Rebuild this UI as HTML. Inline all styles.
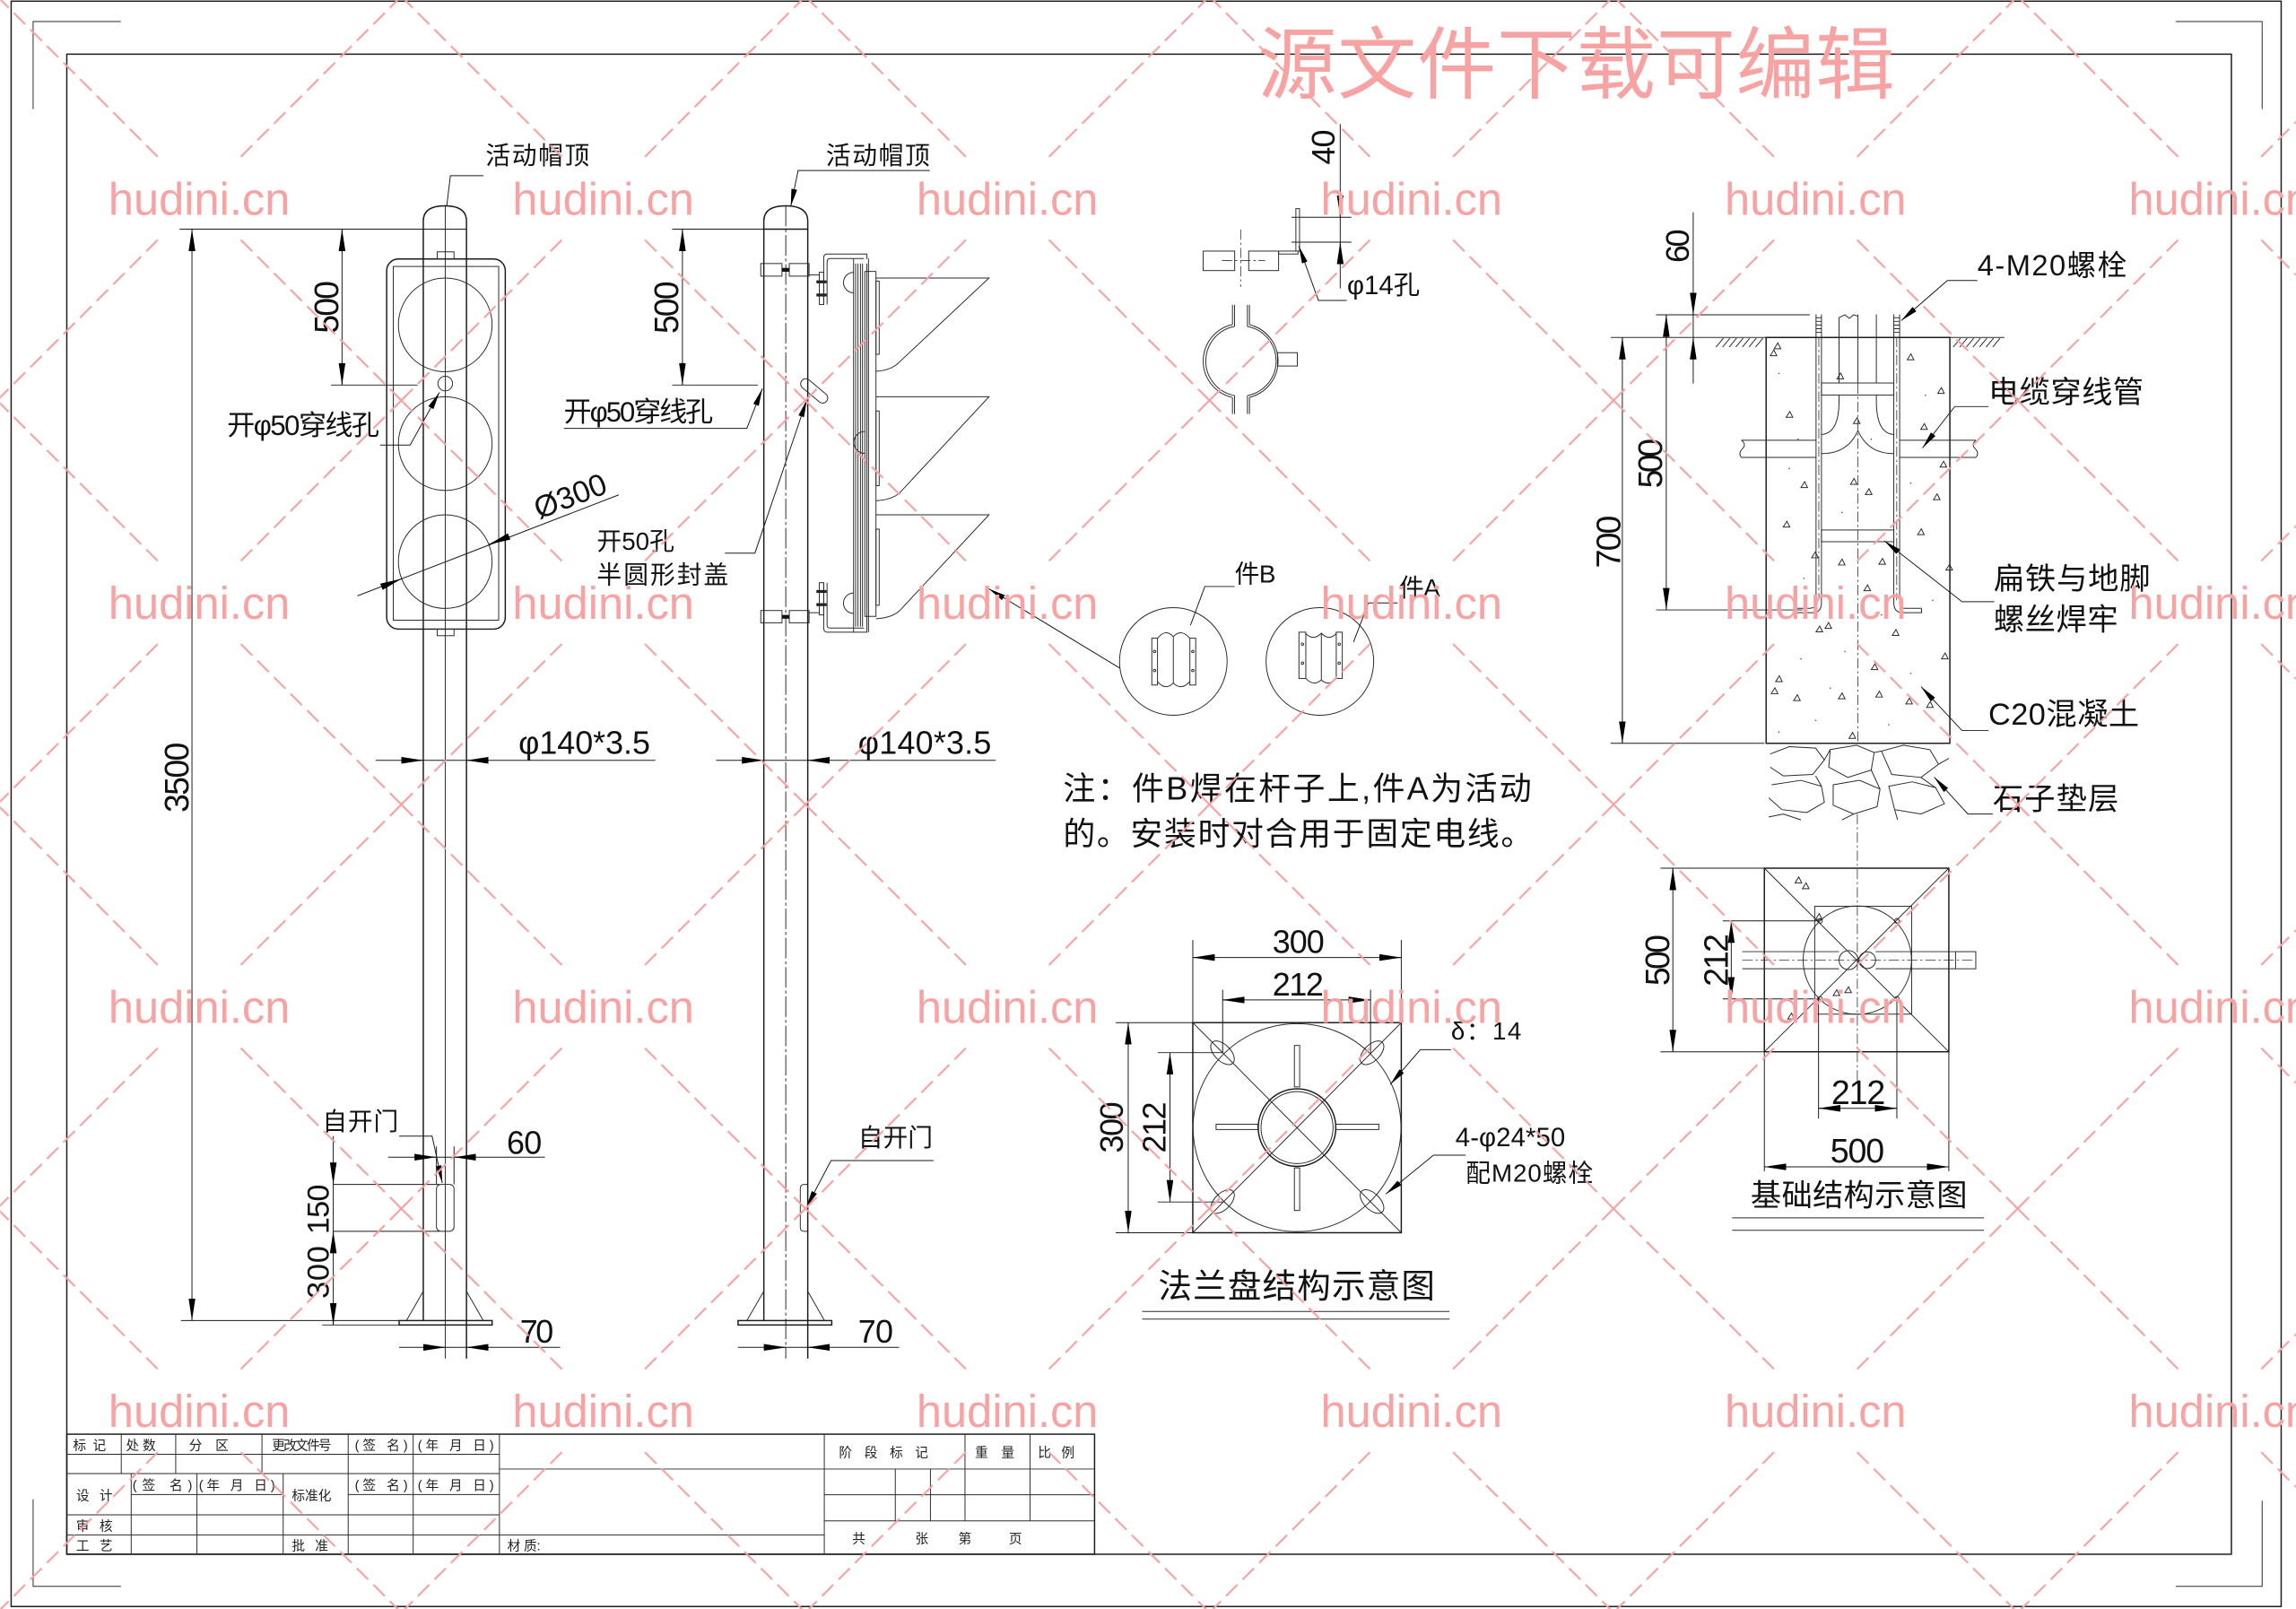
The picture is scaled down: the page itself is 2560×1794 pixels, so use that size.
<!DOCTYPE html>
<html><head><meta charset="utf-8"><style>
html,body{margin:0;padding:0;background:#fff;width:2560px;height:1794px;overflow:hidden}
svg{display:block}
.l{stroke:#1a1a1a;stroke-width:0.9;fill:none}
.t{stroke:#2a2a2a;stroke-width:0.6;fill:none}
.d{stroke:#1a1a1a;stroke-width:0.6;fill:none}
.dash{stroke:#333;stroke-width:0.5;fill:none;stroke-dasharray:7 2 1.5 2}
.n{font-family:"Liberation Sans",sans-serif;fill:#111}
.c{font-family:"Liberation Sans","Noto Sans CJK SC",sans-serif;fill:#111}
.tb{font-family:"Liberation Sans","Noto Sans CJK SC",sans-serif;fill:#222;font-size:9px}
.w{font-family:"Liberation Sans",sans-serif;fill:#f8a3a3;font-size:31px}
</style></head><body>
<svg xmlns="http://www.w3.org/2000/svg" width="2560" height="1794" viewBox="0 0 1568 1099">
<defs>
<marker id="a" viewBox="0 0 15 4.6" refX="15" refY="2.3" markerWidth="15" markerHeight="4.6" markerUnits="userSpaceOnUse" orient="auto"><path d="M0,0L15,2.3L0,4.6z" fill="#000"/></marker>
<marker id="b" viewBox="0 0 12 4" refX="12" refY="2" markerWidth="12" markerHeight="4" markerUnits="userSpaceOnUse" orient="auto"><path d="M0,0L12,2L0,4z" fill="#000"/></marker>
<pattern id="wm" patternUnits="userSpaceOnUse" x="-2" y="-2.5" width="276" height="276">
<path d="M0,0L111,111M276,0L165,111M0,276L111,165M276,276L165,165" stroke="#f6a0a0" stroke-width="1.3" stroke-dasharray="11 5" fill="none"/>
</pattern>
</defs>
<rect width="1568" height="1099" fill="#fff"/>

<!-- borders -->
<rect x="7.5" y="0.8" width="1550.5" height="1096.5" class="l" stroke-width="1.2"/>
<rect x="45.5" y="37" width="1478.5" height="1024.6" class="l"/>
<path class="t" d="M22.5,74.5V14.7H82.5M1486,14.7H1545V74.5M22.5,1024V1083.5H82.5M1486,1083.5H1545V1025"/>

<!-- ============ FRONT VIEW ============ -->
<path class="l" d="M289,156.5V902M318.5,156.5V928"/>
<path class="t" d="M304,140.6V928"/>
<path class="l" d="M289,156.5V151Q289,140.6 303.75,140.6Q318.5,140.6 318.5,151V156.5"/>
<path class="d" d="M122.5,156.5H318.5"/>
<rect x="264" y="176.9" width="81" height="252.8" rx="8" class="l" fill="none"/>
<rect x="268.5" y="182" width="72" height="241.6" class="t"/>
<rect x="298.5" y="172" width="11.5" height="4.9" class="t"/>
<rect x="298.5" y="429.7" width="11.5" height="4.5" class="t"/>
<circle cx="304" cy="221.9" r="32" class="t"/>
<circle cx="304" cy="303" r="32" class="t"/>
<circle cx="304" cy="383.6" r="32" class="t"/>
<circle cx="304" cy="262" r="5" class="t"/>
<!-- dims front -->
<path class="d" d="M233.5,156.5V263M226,263H285"/>
<path class="d" marker-end="url(#a)" d="M233.5,172V156.5"/>
<path class="d" marker-end="url(#a)" d="M233.5,247V263"/>
<text class="n" font-size="23" text-anchor="middle" textLength="36" transform="translate(230.7,209.7) rotate(-90)">500</text>
<path class="d" d="M131,156.5V902M123.5,902H272.5"/>
<path class="d" marker-end="url(#a)" d="M131,172V156.5"/>
<path class="d" marker-end="url(#a)" d="M131,886V902"/>
<text class="n" font-size="23" text-anchor="middle" textLength="48" transform="translate(128.5,531) rotate(-90)">3500</text>
<text class="c" x="331.5" y="112" font-size="17" textLength="71">活动帽顶</text>
<path class="d" d="M305,141L307.5,120H330"/>
<text class="c" x="155" y="297" font-size="19" textLength="104">开φ50穿线孔</text>
<path class="d" marker-end="url(#b)" d="M259.5,304H280L300,268"/>
<path class="d" d="M244,407L422.5,338"/>
<path class="d" marker-end="url(#a)" d="M260.4,400.8L274.3,395.3"/>
<path class="d" marker-end="url(#a)" d="M347.6,366.4L333.7,371.9"/>
<text class="n" font-size="21" text-anchor="middle" transform="translate(392,345.5) rotate(-21.2)">Ø300</text>
<path class="d" d="M256.5,519.3H447.5"/>
<path class="d" marker-end="url(#a)" d="M274,519.3H289"/>
<path class="d" marker-end="url(#a)" d="M333.5,519.3H318.5"/>
<text class="n" x="354" y="515" font-size="22" textLength="90">φ140*3.5</text>
<rect x="298" y="809" width="12" height="32" rx="3" class="t"/>
<text class="c" x="220" y="772" font-size="17" textLength="52">自开门</text>
<path class="d" marker-end="url(#b)" d="M272.5,776H295L302,808"/>
<path class="d" d="M265,790.4H372M298,783V809M310,783V809"/>
<path class="d" marker-end="url(#a)" d="M283,790.4H298"/>
<path class="d" marker-end="url(#a)" d="M325,790.4H310"/>
<text class="n" x="346" y="788" font-size="22" textLength="24">60</text>
<path class="d" d="M227.5,776V905M227.5,809H300M227.5,841H300M220,905H272.5"/>
<path class="d" marker-end="url(#a)" d="M227.5,794V809"/>
<path class="d" marker-end="url(#a)" d="M227.5,856V841"/>
<path class="d" marker-end="url(#a)" d="M227.5,890V905"/>
<text class="n" font-size="21" text-anchor="middle" textLength="34" transform="translate(224.5,826) rotate(-90)">150</text>
<text class="n" font-size="21" text-anchor="middle" textLength="36" transform="translate(224.5,869) rotate(-90)">300</text>
<rect x="272.5" y="902" width="63.5" height="3" class="l"/>
<path class="t" d="M277.5,902L289,882M318.5,882L330,902"/>
<path class="d" d="M272.5,920.3H382.5"/>
<path class="d" marker-end="url(#a)" d="M289,920.3H304"/>
<path class="d" marker-end="url(#a)" d="M333.5,920.3H318.5"/>
<text class="n" x="355" y="917" font-size="22" textLength="23">70</text>

<!-- ============ SIDE VIEW ============ -->
<path class="l" d="M521.6,156.5V902M551.6,156.5V928"/>
<path class="t" d="M536.6,140.6V928" stroke-dasharray="14 2 2 2"/>
<path class="l" d="M521.6,156.5V151Q521.6,140.6 536.6,140.6Q551.6,140.6 551.6,151V156.5Z"/>
<path class="d" d="M466,156.5V263M459,156.5H521.6M459,263H517.5"/>
<path class="d" marker-end="url(#a)" d="M466,172V156.5"/>
<path class="d" marker-end="url(#a)" d="M466,247V263"/>
<text class="n" font-size="23" text-anchor="middle" textLength="36" transform="translate(463,210) rotate(-90)">500</text>
<text class="c" x="564" y="112" font-size="17" textLength="71">活动帽顶</text>
<path class="d" marker-end="url(#b)" d="M635,116.5H545L540,141"/>
<!-- brackets -->
<rect x="519.5" y="180" width="14.5" height="8.6" class="t"/>
<rect x="539" y="180" width="13.5" height="8.6" class="t"/>
<rect x="534" y="183" width="5" height="2.6" fill="#111"/>
<path class="t" d="M552.5,187.8H559.5"/>
<rect x="559.5" y="186" width="3" height="22" class="t"/>
<rect x="557.5" y="191.5" width="7" height="2" fill="#222"/>
<rect x="557.5" y="200.5" width="7" height="2" fill="#222"/>
<path class="t" d="M562.5,208V176Q562.5,173.5 565,173.5H592V177M564.8,208V179Q564.8,176.6 567,176.6H590"/>
<rect x="519.5" y="417" width="14.5" height="8.4" class="t"/>
<rect x="539" y="417" width="13.5" height="8.4" class="t"/>
<rect x="534" y="420" width="5" height="2.6" fill="#111"/>
<path class="t" d="M552.5,418.5H559.5"/>
<rect x="559.5" y="398" width="3" height="22" class="t"/>
<rect x="557.5" y="403" width="7" height="2" fill="#222"/>
<rect x="557.5" y="412" width="7" height="2" fill="#222"/>
<path class="t" d="M562.5,398V429Q562.5,431.8 565,431.8H592V428M564.8,398V427Q564.8,429 567,429H590"/>
<!-- housing -->
<path class="t" d="M582.9,176.6V431.8M584.3,180V428M585.9,180V428M587.6,180V428M589,180V428M592,180V428M593.1,176.6V431.8"/>
<rect x="590.6" y="185.4" width="7.6" height="235.6" class="t"/>
<path class="t" d="M583,186A7,7 0 0 0 583,200M590.6,294.7A7.5,7.5 0 0 0 590.6,309.7M583,405A7,7 0 0 0 583,419"/>
<path class="t" d="M598.2,189.9H675.4L614.5,247Q609,253 598.2,253.6"/>
<path class="t" d="M598.2,271H675.4L614.5,336.5Q609,341.5 598.2,342"/>
<path class="t" d="M598.2,351.6H675.4L614.5,417Q609,422 598.2,422.6"/>
<rect x="598.2" y="192" width="2.2" height="50" class="t"/>
<rect x="598.2" y="280.7" width="2.2" height="51" class="t"/>
<rect x="598.2" y="361.4" width="2.2" height="52" class="t"/>
<rect x="545" y="263.5" width="22" height="7" rx="3.5" transform="rotate(40 556 267)" class="t" fill="#fff"/>
<text class="c" x="385" y="288" font-size="19" textLength="102">开φ50穿线孔</text>
<path class="d" marker-end="url(#b)" d="M385,292.6H510L520.6,265.4"/>
<text class="c" x="407.5" y="375.5" font-size="17" textLength="53">开50孔</text>
<text class="c" x="407.5" y="398.5" font-size="17" textLength="90">半圆形封盖</text>
<path class="d" marker-end="url(#b)" d="M495,377.8H515.5L551,273"/>
<path class="d" d="M489,519.3H680"/>
<path class="d" marker-end="url(#a)" d="M506.6,519.3H521.6"/>
<path class="d" marker-end="url(#a)" d="M566.6,519.3H551.6"/>
<text class="n" x="586" y="515" font-size="22" textLength="91">φ140*3.5</text>
<path class="t" d="M551.6,809H549Q546.5,809 546.5,812V838Q546.5,841 549,841H551.6"/>
<text class="c" x="586" y="783" font-size="17" textLength="51">自开门</text>
<path class="d" marker-end="url(#b)" d="M637.5,792.7H567.5L550.5,825"/>
<rect x="504" y="902" width="64" height="3" class="l"/>
<path class="t" d="M510,902L521.6,882M551.6,882L563,902"/>
<path class="d" d="M504,920.3H614"/>
<path class="d" marker-end="url(#a)" d="M521.6,920.3H536.6"/>
<path class="d" marker-end="url(#a)" d="M566.6,920.3H551.6"/>
<text class="n" x="586" y="917" font-size="22" textLength="24">70</text>
<path class="d" marker-end="url(#b)" d="M765,456.5L675,402"/>

<!-- ============ PARTS ============ -->
<path class="d" d="M915.3,84.7V197M882,148.4H923M882,165.4H923"/>
<path class="d" marker-end="url(#a)" d="M915.3,133.4V148.4"/>
<path class="d" marker-end="url(#a)" d="M915.3,180.4V165.4"/>
<text class="n" font-size="22" text-anchor="middle" textLength="24" transform="translate(911.5,100.5) rotate(-90)">40</text>
<rect x="885" y="142.5" width="2.5" height="29" class="t"/>
<rect x="873.2" y="171.5" width="13.3" height="2" class="t"/>
<rect x="821.7" y="171.5" width="21.5" height="13.3" class="t"/>
<rect x="852.8" y="171.5" width="20.4" height="13.3" class="t"/>
<path class="dash" d="M847.3,156.8V196M834.5,178H864"/>
<text class="c" x="920" y="201" font-size="18">φ14孔</text>
<path class="d" marker-end="url(#b)" d="M919.8,205.2H900.4L887,168"/>
<path class="t" d="M841.7,221.7A25.5,25.5 0 0 0 841.7,271.5M843.1,223A24,24 0 0 0 843.1,270.2M853.3,221.8A25.5,25.5 0 0 1 853.3,271.4M851.9,223A24,24 0 0 1 851.9,270.2"/>
<path class="t" d="M841.7,208.2V221.7M843.1,208.2V223M851.9,208.2V223M853.3,208.2V221.8M841.7,271.5V282.8M843.1,270.2V282.8M851.9,270.2V282.8M853.3,271.4V282.8"/>
<rect x="872.5" y="240.9" width="13.5" height="9.1" class="t"/>
<circle cx="801.3" cy="451.8" r="36.75" class="t"/>
<circle cx="901.4" cy="451.8" r="36.75" class="t"/>
<rect x="786.6" y="435.9" width="3.9" height="32" class="t"/>
<rect x="812.6" y="435.9" width="4" height="32" class="t"/>
<path class="t" d="M790.5,436Q795.9,429 801.3,434.9Q806.7,429 812.6,436M790.5,465.5Q795.9,472 801.3,466.5Q806.7,472 812.6,465.5M801.3,434.9V466.5"/>
<circle cx="788.5" cy="445" r="0.8" class="t"/><circle cx="788.5" cy="458" r="0.8" class="t"/>
<circle cx="814.6" cy="445" r="0.8" class="t"/><circle cx="814.6" cy="458" r="0.8" class="t"/>
<rect x="887.1" y="431.8" width="4.7" height="31.6" class="t"/>
<rect x="912.6" y="431.8" width="4.1" height="31.6" class="t"/>
<path class="t" d="M891.8,432.8Q897,438 902.4,432.5Q907.5,438 912.6,432.8M891.8,463.4Q897,469 902.4,464.5Q907.5,469 912.6,463.4M902.4,432.5V464.5"/>
<circle cx="889.5" cy="440" r="0.8" class="t"/><circle cx="889.5" cy="453" r="0.8" class="t"/>
<circle cx="914.6" cy="440" r="0.8" class="t"/><circle cx="914.6" cy="453" r="0.8" class="t"/>
<text class="c" x="843.2" y="398" font-size="17" textLength="28">件B</text>
<path class="d" d="M843.2,400.6H822.8L813,427.1"/>
<text class="c" x="955.5" y="407.5" font-size="17" textLength="28">件A</text>
<path class="d" d="M954.5,411.8H934.6L924.4,438.5"/>
<text class="c" x="726" y="546" font-size="22" textLength="320">注：件B焊在杆子上,件A为活动</text>
<text class="c" x="726" y="577" font-size="22" textLength="321">的。安装时对合用于固定电线。</text>

<!-- ============ FOUNDATION SECTION ============ -->
<path class="d" d="M1131,215H1236"/>
<path class="t" d="M1100,230.5H1206.2M1331.7,230.5H1369"/>
<path class="t" d="M1172,237L1177,231M1176.5,237L1181.5,231M1181,237L1186,231M1185.5,237L1190.5,231M1190,237L1195,231M1194.5,237L1199.5,231M1199,237L1204,231M1334,237L1339,231M1338.5,237L1343.5,231M1343,237L1348,231M1347.5,237L1352.5,231M1352,237L1357,231M1356.5,237L1361.5,231M1361,237L1366,231"/>
<rect x="1206.2" y="230.5" width="125.5" height="277.2" class="l"/>
<path class="dash" d="M1268.9,262V507.7"/>
<path class="t" d="M1256,217V261.6M1268.9,214.7V261.6M1281.5,214.7V261.6M1256,217L1260,215L1263,217.5L1266,215L1268.9,216"/>
<path class="t" d="M1256,269.8V274Q1256,296 1244,296.8M1281.5,269.8V274Q1281.5,296 1293.4,296.8M1268.9,294.1Q1262,310 1244,309.8M1268.9,294.1Q1276,310 1293.4,309.8"/>
<path class="t" d="M1240.3,214.7V411.6Q1240.3,415.3 1236,415.5H1225M1244,214.7V411.6Q1244,418.5 1238,418.5H1225V415.5"/>
<path class="t" d="M1293.4,214.7V411.6Q1293.4,418.5 1299.5,418.5H1312.4V415.5M1297.4,214.7V411.6Q1297.4,415.3 1301,415.5H1312.4"/>
<path class="t" d="M1240.3,217H1244M1240.3,219.5H1244M1240.3,222H1244M1240.3,224.5H1244M1240.3,227H1244M1293.4,217H1297.4M1293.4,219.5H1297.4M1293.4,222H1297.4M1293.4,224.5H1297.4M1293.4,227H1297.4"/>
<path class="dash" d="M1242.2,230V410M1295.4,230V410"/>
<rect x="1244" y="261.6" width="49.4" height="8.2" class="t"/>
<rect x="1244" y="362" width="49.4" height="8" class="t"/>
<path class="t" d="M1189.3,300.7H1240.3M1189.3,312.4H1240.3M1297.4,300.7H1349.5M1297.4,312.4H1349.5M1189.3,300.7Q1193,303.5 1190,306.5Q1187,309.5 1189.3,312.4M1349.5,300.7Q1346,303.5 1349,306.5Q1352,309.5 1349.5,312.4"/>
<g class="t">
<path d="M1211.7,238.2l2.5,-4l2,4z M1209,243l2.5,-4l2,4z M1219.9,285l2.5,-4l2,4z M1230,333l2.5,-4l2,4z M1217.9,360l2.5,-4l2,4z M1237.3,381l2.5,-4l2,4z M1265.8,289.3l2.5,-4l2,4z M1254.6,258.8l2.5,-4l2,4z M1263.8,330.8l2.5,-4l2,4z M1274,337.8l2.5,-4l2,4z M1255.6,385.9l2.5,-4l2,4z M1283.2,385.4l2.5,-4l2,4z M1273,403.5l2.5,-4l2,4z M1302.6,245.7l2.5,-4l2,4z M1323.4,268.7l2.5,-4l2,4z M1311.8,293.3l2.5,-4l2,4z M1325,319l2.5,-4l2,4z M1320.5,341.3l2.5,-4l2,4z M1309.7,365.2l2.5,-4l2,4z M1329,389.4l2.5,-4l2,4z M1246.4,429.2l2.5,-4l2,4z M1240.3,431.6l2.5,-4l2,4z M1292.4,434l2.5,-4l2,4z M1212.7,465.6l2.5,-4l2,4z M1209.7,473.8l2.5,-4l2,4z M1225,478.5l2.5,-4l2,4z M1255.6,477.3l2.5,-4l2,4z M1281.1,476.1l2.5,-4l2,4z M1278,457.4l2.5,-4l2,4z M1301.6,480.8l2.5,-4l2,4z M1315.8,483.2l2.5,-4l2,4z M1262.8,504.3l2.5,-4l2,4z M1326,450l2.5,-4l2,4z"/>
</g>
<g fill="#555">
<circle cx="1215" cy="255" r="0.5"/><circle cx="1228" cy="300" r="0.5"/><circle cx="1222" cy="320" r="0.5"/><circle cx="1232" cy="395" r="0.5"/><circle cx="1216" cy="420" r="0.5"/><circle cx="1230" cy="450" r="0.5"/><circle cx="1240" cy="492" r="0.5"/><circle cx="1260" cy="445" r="0.5"/><circle cx="1285" cy="420" r="0.5"/><circle cx="1305" cy="330" r="0.5"/><circle cx="1315" cy="270" r="0.5"/><circle cx="1305" cy="460" r="0.5"/><circle cx="1290" cy="495" r="0.5"/><circle cx="1320" cy="410" r="0.5"/><circle cx="1258" cy="350" r="0.5"/><circle cx="1278" cy="300" r="0.5"/><circle cx="1250" cy="470" r="0.5"/><circle cx="1215" cy="500" r="0.5"/>
</g>
<g class="t">
<path d="M1209,515L1222,510L1240,511L1246,519L1238,529L1218,530L1209,524"/>
<path d="M1250,512L1268,509L1280,514L1278,526L1262,531L1249,524Z"/>
<path d="M1285,513L1300,509L1318,512L1324,522L1312,531L1292,529Z"/>
<path d="M1210,536L1230,533L1244,537L1246,548L1234,555L1217,553L1208,545"/>
<path d="M1252,536L1270,533L1284,539L1282,551L1266,556L1252,550Z"/>
<path d="M1290,537L1306,534L1322,538L1328,549L1312,556L1294,553Z"/>
<path d="M1246,519L1250,512M1240,530L1244,537M1280,514L1285,513M1278,526L1284,539M1324,522L1331,518M1312,531L1322,538M1208,558L1218,556L1230,560M1258,560L1266,556M1296,560L1294,553"/>
</g>
<path class="d" d="M1156.4,145V262"/>
<path class="d" marker-end="url(#a)" d="M1156.4,200V215"/>
<path class="d" marker-end="url(#a)" d="M1156.4,245.5V230.5"/>
<text class="n" font-size="22" text-anchor="middle" textLength="23" transform="translate(1153.5,168) rotate(-90)">60</text>
<path class="d" d="M1138,215V416.6M1131,416.6H1231"/>
<path class="d" marker-end="url(#a)" d="M1138,230V215"/>
<path class="d" marker-end="url(#a)" d="M1138,401.6V416.6"/>
<text class="n" font-size="23" text-anchor="middle" textLength="34" transform="translate(1135,316.5) rotate(-90)">500</text>
<path class="d" d="M1108,230.5V507.7M1100,507.7H1205"/>
<path class="d" marker-end="url(#a)" d="M1108,245.5V230.5"/>
<path class="d" marker-end="url(#a)" d="M1108,492.7V507.7"/>
<text class="n" font-size="23" text-anchor="middle" textLength="36" transform="translate(1106.5,370) rotate(-90)">700</text>
<text class="c" x="1350.5" y="188" font-size="20" textLength="102">4-M20螺栓</text>
<path class="d" marker-end="url(#b)" d="M1350.5,191.6H1330L1298.5,219"/>
<text class="c" x="1358" y="275" font-size="21" textLength="106">电缆穿线管</text>
<path class="d" marker-end="url(#b)" d="M1358,277.7H1335L1313,306"/>
<text class="c" x="1361.6" y="402.5" font-size="21" textLength="107">扁铁与地脚</text>
<text class="c" x="1361.6" y="430.5" font-size="21" textLength="85">螺丝焊牢</text>
<path class="d" marker-end="url(#b)" d="M1362,411H1340L1287,369.5"/>
<text class="c" x="1358" y="495" font-size="21" textLength="103">C20混凝土</text>
<path class="d" marker-end="url(#b)" d="M1358,499H1340L1312,469"/>
<text class="c" x="1361" y="553" font-size="21" textLength="86">石子垫层</text>
<path class="d" marker-end="url(#b)" d="M1361,556H1344L1321,530.8"/>

<!-- ============ FOUNDATION PLAN ============ -->
<rect x="1205" y="593" width="126" height="125.4" class="l"/>
<path class="t" d="M1205,593L1331,718.4M1331,593L1205,718.4"/>
<rect x="1239.4" y="619" width="66.2" height="73.7" class="t"/>
<circle cx="1268.5" cy="655.8" r="37" class="t"/>
<path class="t" d="M1190,650H1256M1190,661.7H1256M1281,650H1335.6M1281,661.7H1335.6"/>
<rect x="1335.6" y="650" width="13.8" height="11.7" class="t"/>
<circle cx="1262.5" cy="655.8" r="6.5" class="t"/>
<circle cx="1275.3" cy="655.8" r="5.7" class="t"/>
<path class="dash" d="M1268.5,556V740M1190,655.8H1349"/>
<g class="t"><circle cx="1243" cy="629" r="1.6"/><circle cx="1295.5" cy="629" r="1.6"/><circle cx="1243" cy="682.3" r="1.6"/><circle cx="1295.5" cy="682.3" r="1.6"/>
<path d="M1226,603l2.5,-4l2,4z M1231,607l2.5,-4l2,4z M1221,696l2.5,-4l2,4z M1260,678l2.5,-4l2,4z M1252,680l2.5,-4l2,4z M1240,628l2.5,-4l2,4z"/></g>
<path class="d" d="M1142.5,593V718.4M1134,593H1205M1134,718.4H1205"/>
<path class="d" marker-end="url(#a)" d="M1142.5,608V593"/>
<path class="d" marker-end="url(#a)" d="M1142.5,703.4V718.4"/>
<text class="n" font-size="23" text-anchor="middle" textLength="35" transform="translate(1140,655.8) rotate(-90)">500</text>
<path class="d" d="M1182.4,629V682.3M1176.6,629H1243M1176.6,682.3H1243"/>
<path class="d" marker-end="url(#a)" d="M1182.4,644V629"/>
<path class="d" marker-end="url(#a)" d="M1182.4,667.3V682.3"/>
<text class="n" font-size="23" text-anchor="middle" textLength="36" transform="translate(1180,655.8) rotate(-90)">212</text>
<path class="d" d="M1242,757H1295.5M1242,682V764M1295.5,682V764"/>
<path class="d" marker-end="url(#a)" d="M1257,757H1242"/>
<path class="d" marker-end="url(#a)" d="M1280.5,757H1295.5"/>
<text class="n" x="1250.7" y="754" font-size="23" textLength="37">212</text>
<path class="d" d="M1205,797H1331M1205,718.4V800M1331,718.4V800"/>
<path class="d" marker-end="url(#a)" d="M1220,797H1205"/>
<path class="d" marker-end="url(#a)" d="M1316,797H1331"/>
<text class="n" x="1250" y="794" font-size="23" textLength="37">500</text>
<text class="c" x="1195.6" y="823.5" font-size="21" textLength="148">基础结构示意图</text>
<path class="t" d="M1183,831.8H1355M1183,840.3H1355"/>

<!-- ============ FLANGE ============ -->
<rect x="814.6" y="698.5" width="142.4" height="143.5" class="l"/>
<circle cx="885.8" cy="770.2" r="71" class="t"/>
<path class="t" d="M814.6,698.5L957,842M957,698.5L814.6,842"/>
<circle cx="885.8" cy="770.2" r="26.5" class="l"/>
<circle cx="885.8" cy="770.2" r="24.6" class="t"/>
<rect x="884" y="714.1" width="3.6" height="28.3" class="t" fill="#fff"/>
<rect x="884" y="797.7" width="3.6" height="29.1" class="t" fill="#fff"/>
<rect x="830.5" y="767.9" width="28.5" height="3.6" class="t" fill="#fff"/>
<rect x="912.1" y="767.9" width="29.6" height="3.6" class="t" fill="#fff"/>
<ellipse cx="834.9" cy="719.1" rx="10" ry="5.5" transform="rotate(45 834.9 719.1)" class="t"/>
<ellipse cx="937" cy="719.1" rx="10" ry="5.5" transform="rotate(-45 937 719.1)" class="t"/>
<ellipse cx="834.9" cy="820.7" rx="10" ry="5.5" transform="rotate(-45 834.9 820.7)" class="t"/>
<ellipse cx="937" cy="820.7" rx="10" ry="5.5" transform="rotate(45 937 820.7)" class="t"/>
<path class="d" d="M814.6,654H957M814.6,642V698.5M957,642V698.5"/>
<path class="d" marker-end="url(#a)" d="M829.6,654H814.6"/>
<path class="d" marker-end="url(#a)" d="M942,654H957"/>
<text class="n" x="869" y="651" font-size="22" textLength="35.5">300</text>
<path class="d" d="M835,683H936M835,676V719M936,676V719"/>
<path class="d" marker-end="url(#a)" d="M850,683H835"/>
<path class="d" marker-end="url(#a)" d="M921,683H936"/>
<text class="n" x="869" y="680" font-size="22" textLength="35">212</text>
<path class="d" d="M770.5,698.5V842M762,698.5H815M762,842H815"/>
<path class="d" marker-end="url(#a)" d="M770.5,713.5V698.5"/>
<path class="d" marker-end="url(#a)" d="M770.5,827V842"/>
<text class="n" font-size="22" text-anchor="middle" textLength="35" transform="translate(767,770) rotate(-90)">300</text>
<path class="d" d="M799,719V821M790.6,719H835M790.6,821H835"/>
<path class="d" marker-end="url(#a)" d="M799,734V719"/>
<path class="d" marker-end="url(#a)" d="M799,806V821"/>
<text class="n" font-size="22" text-anchor="middle" textLength="35" transform="translate(796,770) rotate(-90)">212</text>
<text class="c" x="991" y="710" font-size="17" textLength="48">δ：14</text>
<path class="d" marker-end="url(#b)" d="M991,717H970L949.5,740.7"/>
<text class="c" x="994" y="783" font-size="18" textLength="75">4-φ24*50</text>
<text class="c" x="1001" y="807" font-size="17" textLength="87">配M20螺栓</text>
<path class="d" marker-end="url(#b)" d="M1001,789H979L946.5,815.5"/>
<text class="c" x="791" y="886.5" font-size="23" textLength="189">法兰盘结构示意图</text>
<path class="t" d="M780,895.8H990M780,901H990"/>

<!-- ============ TITLE BLOCK ============ -->
<rect x="45.5" y="979.6" width="702" height="82" class="l"/>
<path class="t" d="M45.5,993.3H341M45.5,1006.5H341M89.5,1020.8H193.3M237.7,1020.8H341M45.5,1034.7H341M45.5,1048.4H562.9M341,1003.4H747.3M562.9,1021H747.3M562.9,1038.8H747.3
M82.7,979.6V1006.5M119.9,979.6V1006.5M178.8,979.6V1006.5M237.7,979.6V1061.6M282.1,979.6V1061.6M341,979.6V1061.6M89.5,1006.5V1061.6M134.4,1006.5V1061.6M193.3,1006.5V1061.6M562.9,979.6V1061.6M659,979.6V1038.8M703.4,979.6V1038.8M611.4,1003.4V1038.8M635.4,1003.4V1038.8"/>
<text class="tb" x="49.7" y="990.3" textLength="22.6">标 记</text>
<text class="tb" x="85.9" y="990.3" textLength="20.4">处数</text>
<text class="tb" x="129" y="990.3" textLength="27">分 区</text>
<text class="tb" x="185.6" y="990.3" textLength="40.7">更改文件号</text>
<text class="tb" x="242.2" y="990.3" textLength="36.2">(签 名)</text>
<text class="tb" x="285.2" y="990.3" textLength="52">(年 月 日)</text>
<text class="tb" x="90.4" y="1017.5" textLength="40.8">(签 名)</text>
<text class="tb" x="135.7" y="1017.5" textLength="52">(年 月 日)</text>
<text class="tb" x="242.2" y="1017.5" textLength="36.2">(签 名)</text>
<text class="tb" x="285.2" y="1017.5" textLength="52">(年 月 日)</text>
<text class="tb" x="51.9" y="1024.5" textLength="24.9">设 计</text>
<text class="tb" x="199.2" y="1024.5" textLength="27">标准化</text>
<text class="tb" x="51.9" y="1045.3" textLength="24.9">审 核</text>
<text class="tb" x="51.9" y="1058.8" textLength="24.9">工 艺</text>
<text class="tb" x="199.2" y="1058.8" textLength="24.8">批 准</text>
<text class="tb" x="346.4" y="1058.8" textLength="22.6">材 质:</text>
<text class="tb" x="572.9" y="995.3" textLength="61">阶 段 标 记</text>
<text class="tb" x="665.8" y="995.3" textLength="27">重 量</text>
<text class="tb" x="708.8" y="995.3" textLength="25">比 例</text>
<text class="tb" x="582" y="1054">共</text>
<text class="tb" x="625" y="1054">张</text>
<text class="tb" x="654.4" y="1054">第</text>
<text class="tb" x="689" y="1054">页</text>

<!-- ============ WATERMARKS ============ -->
<rect width="1568" height="1099" fill="url(#wm)"/>
<g class="w">
<text x="73.9" y="146.6">hudini.cn</text><text x="349.9" y="146.6">hudini.cn</text><text x="625.9" y="146.6">hudini.cn</text><text x="901.9" y="146.6">hudini.cn</text><text x="1177.9" y="146.6">hudini.cn</text><text x="1453.9" y="146.6">hudini.cn</text>
<text x="73.9" y="422.6">hudini.cn</text><text x="349.9" y="422.6">hudini.cn</text><text x="625.9" y="422.6">hudini.cn</text><text x="901.9" y="422.6">hudini.cn</text><text x="1177.9" y="422.6">hudini.cn</text><text x="1453.9" y="422.6">hudini.cn</text>
<text x="73.9" y="698.6">hudini.cn</text><text x="349.9" y="698.6">hudini.cn</text><text x="625.9" y="698.6">hudini.cn</text><text x="901.9" y="698.6">hudini.cn</text><text x="1177.9" y="698.6">hudini.cn</text><text x="1453.9" y="698.6">hudini.cn</text>
<text x="73.9" y="974.6">hudini.cn</text><text x="349.9" y="974.6">hudini.cn</text><text x="625.9" y="974.6">hudini.cn</text><text x="901.9" y="974.6">hudini.cn</text><text x="1177.9" y="974.6">hudini.cn</text><text x="1453.9" y="974.6">hudini.cn</text>
</g>
<text x="859" y="63" font-size="54" textLength="435" style="font-family:'Liberation Sans','Noto Sans CJK SC',sans-serif;fill:#f8a3a3">源文件下载可编辑</text>
</svg>
</body></html>
